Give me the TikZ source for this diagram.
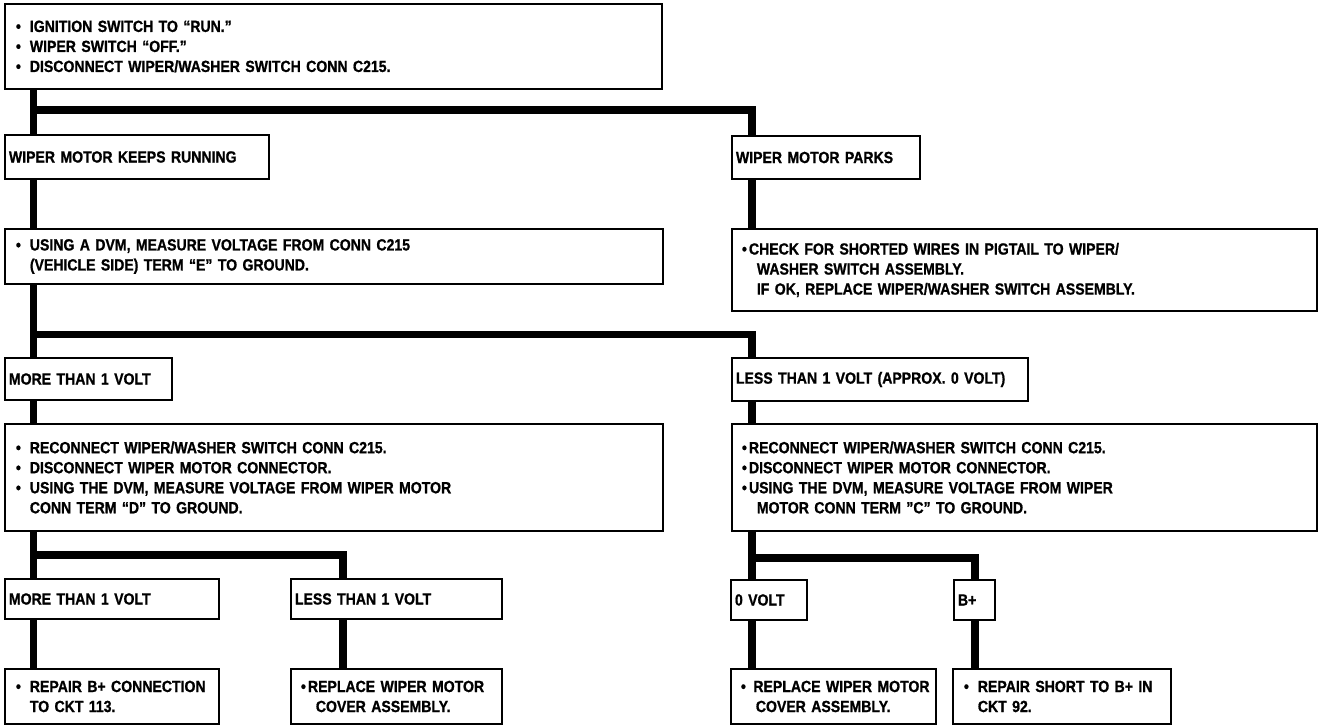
\documentclass[tikz,border=0pt]{standalone}
\usepackage{fontspec}
\setmainfont{Liberation Sans}[FakeStretch=0.87,FakeBold=1]
\usepackage{tikz}
\usetikzlibrary{calc,positioning}
\hyphenpenalty=10000
\exhyphenpenalty=10000
\newcommand{\bul}{\hspace*{0.14cm}\textbullet\hspace{0.18cm}}
\newcommand{\bult}{\hspace*{0.12cm}\textbullet\kern1.2pt}
\newcommand{\hng}{\hspace*{0.14cm}\phantom{\textbullet}\hspace{0.18cm}}
\tikzset{
  chk/.style={draw, line width=1.1pt, anchor=north west, align=left,
    inner xsep=0.08cm, inner ysep=0pt,
    font=\fontsize{9.2}{11.4}\selectfont\bfseries},
  wd/.code={\pgfmathsetlengthmacro\boxwd{#1*0.02cm-0.16cm}\tikzset{text width=\boxwd}},
  ht/.style={minimum height=#1*0.02cm},
  wire/.style={line width=4pt}
}
\begin{document}
\begin{tikzpicture}[x=0.02cm,y=-0.02cm]
			\useasboundingbox (0,0) rectangle (1320,725);
			% checks and results
			\node[chk,wd=657,ht=85] (top) at (4,3) {\bul IGNITION SWITCH TO “RUN.”\\ \bul WIPER SWITCH “OFF.”\\ \bul DISCONNECT WIPER/WASHER SWITCH CONN C215.};
			\node[chk,wd=264,ht=44] (run) at (4,134) {WIPER MOTOR KEEPS RUNNING};
			\node[chk,wd=188,ht=43] (park) at (731,135) {WIPER MOTOR PARKS};
			\node[chk,wd=658,ht=55] (dvm) at (4,228) {\bul USING A DVM, MEASURE VOLTAGE FROM CONN C215\\ \hng(VEHICLE SIDE) TERM “E” TO GROUND.};
			\node[chk,wd=585,ht=82] (pig) at (731,228) {\bult CHECK FOR SHORTED WIRES IN PIGTAIL TO WIPER/\\ \hng WASHER SWITCH ASSEMBLY.\\ \hng IF OK, REPLACE WIPER/WASHER SWITCH ASSEMBLY.};
			\node[chk,wd=167,ht=42] (more) at (4,357) {MORE THAN 1 VOLT};
			\node[chk,wd=296,ht=43] (less) at (731,357) {LESS THAN 1 VOLT (APPROX. 0 VOLT)};
			\node[chk,wd=658,ht=107] (recL) at (4,423) {\bul RECONNECT WIPER/WASHER SWITCH CONN C215.\\ \bul DISCONNECT WIPER MOTOR CONNECTOR.\\ \bul USING THE DVM, MEASURE VOLTAGE FROM WIPER MOTOR\\ \hng CONN TERM “D” TO GROUND.};
			\node[chk,wd=585,ht=107] (recR) at (731,423) {\bult RECONNECT WIPER/WASHER SWITCH CONN C215.\\ \bult DISCONNECT WIPER MOTOR CONNECTOR.\\ \bult USING THE DVM, MEASURE VOLTAGE FROM WIPER\\ \hng MOTOR CONN TERM ”C” TO GROUND.};
			\node[chk,wd=214,ht=40] (moreB) at (4,578) {MORE THAN 1 VOLT};
			\node[chk,wd=211,ht=40] (lessB) at (290,578) {LESS THAN 1 VOLT};
			\node[chk,wd=76,ht=40] (zero) at (730,579) {0 VOLT};
			\node[chk,wd=41,ht=40] (bplus) at (953,579) {B+};
			\node[chk,wd=214,ht=55] (repB) at (4,668) {\bul REPAIR B+ CONNECTION\\ \hng TO CKT 113.};
			\node[chk,wd=211,ht=55] (repl1) at (290,668) {\bult REPLACE WIPER MOTOR\\ \hng COVER ASSEMBLY.};
			\node[chk,wd=205,ht=55] (repl2) at (730,668) {\bult\ REPLACE WIPER MOTOR\\ \hng COVER ASSEMBLY.};
			\node[chk,wd=218,ht=55] (short) at (952,668) {\bul REPAIR SHORT TO B+ IN\\ \hng CKT 92.};
			% wire positions
			\coordinate (xa) at (33.5,0);
			\coordinate (xb) at (752,0);
			\coordinate (xc) at (343,0);
			\coordinate (xd) at (975,0);
			\coordinate (b1) at (0,110);
			\coordinate (b2) at (0,334.5);
			\coordinate (b3) at (0,555);
			\coordinate (b4) at (0,558);
			% flow lines
			\draw[wire] (top.south -| xa)--(run.north -| xa);
			\draw[wire] (xa |- b1) -| (park.north -| xb);
			\draw[wire] (run.south -| xa)--(dvm.north -| xa);
			\draw[wire] (park.south -| xb)--(pig.north -| xb);
			\draw[wire] (dvm.south -| xa)--(more.north -| xa);
			\draw[wire] (xa |- b2) -| (less.north -| xb);
			\draw[wire] (more.south -| xa)--(recL.north -| xa);
			\draw[wire] (less.south -| xb)--(recR.north -| xb);
			\draw[wire] (recL.south -| xa)--(moreB.north -| xa);
			\draw[wire] (xa |- b3) -| (lessB.north -| xc);
			\draw[wire] (moreB.south -| xa)--(repB.north -| xa);
			\draw[wire] (lessB.south -| xc)--(repl1.north -| xc);
			\draw[wire] (recR.south -| xb)--(zero.north -| xb);
			\draw[wire] (xb |- b4) -| (bplus.north -| xd);
			\draw[wire] (zero.south -| xb)--(repl2.north -| xb);
			\draw[wire] (bplus.south -| xd)--(short.north -| xd);
		\end{tikzpicture}
\end{document}
